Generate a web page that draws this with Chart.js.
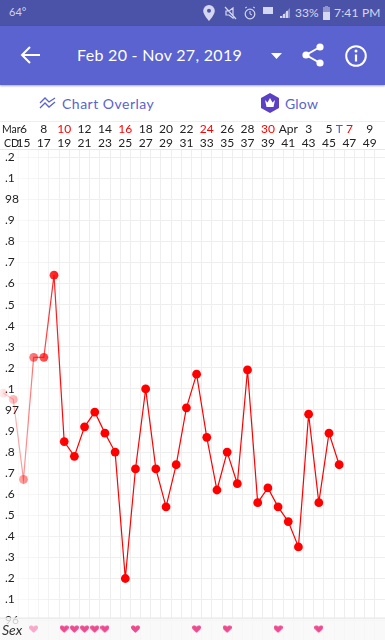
<!DOCTYPE html>
<html>
<head>
<meta charset="utf-8">
<title>Temperature chart</title>
<script src="https://cdn.jsdelivr.net/npm/chart.js@4"></script>
<style>
html, body { margin: 0; padding: 0; background: #fff; overflow: hidden; width: 385px; height: 640px; font-family: Lato, sans-serif; }
.abs { position: absolute; white-space: nowrap; }
#status { left: 0; top: 0; width: 385px; height: 26px; background: #4b53a9; }
#header { left: 0; top: 26px; width: 385px; height: 59px; background: #5a63cf; box-shadow: 0 1px 2px rgba(0,0,0,.35); }
canvas { position: absolute; left: -2px; top: 122px; }
</style>
</head>
<body>
<canvas id="chart" width="387" height="518"></canvas>

<div class="abs" id="status"></div>
<div class="abs" id="header"></div>
<div class="abs" style="left:0;top:121px;width:385px;height:1px;background:#eee"></div>
<div class="abs" style="left:0;top:149px;width:385px;height:1px;background:#e8e8e8"></div>

<div class="abs" style="left:9px;top:5px;font-size:11px;color:#cfd2ee">64°</div>
<div class="abs" style="left:295px;top:5px;font-size:12px;color:#d5d7f0">33%</div>
<div class="abs" style="left:334px;top:5px;font-size:12px;letter-spacing:.2px;color:#d5d7f0">7:41 PM</div>
<svg class="abs" style="left:200px;top:4px" width="92" height="18" viewBox="0 0 92 18">
  <path d="M9 1a5.800 5.800 0 0 0-5.800 5.800C3.200 11 9 17 9 17s5.800-6 5.800-10.200A5.800 5.800 0 0 0 9 1z" fill="#d5d7f0"/>
  <circle cx="9" cy="6.800" r="2" fill="#4b53a9"/>
  <path d="M26 7h3l4-3v10l-4-3h-3zM25 3l11 12" fill="none" stroke="#d5d7f0" stroke-width="1.200"/>
  <circle cx="50" cy="10" r="4.800" fill="none" stroke="#d5d7f0" stroke-width="1.200"/>
  <path d="M50 7v3l2 1M45 4l2-1M55 4l-2-1" fill="none" stroke="#d5d7f0"/>
  <rect x="63" y="3" width="10" height="7" fill="#d5d7f0"/>
  <path d="M80 14l10-10v10z" fill="#8a8fc9"/>
  <path d="M80 14h2v-2h-2zM83 14h2v-4h-2zM86 14h2v-7h-2z" fill="#d5d7f0"/>
</svg>
<svg class="abs" style="left:322px;top:6px" width="9" height="14" viewBox="0 0 9 14">
  <rect x="3" y="0" width="3" height="2" fill="#9095cc"/><rect x="1" y="1" width="7" height="5" fill="#9095cc"/><rect x="1" y="6" width="7" height="8" fill="#d5d7f0"/>
</svg>

<svg class="abs" style="left:20px;top:43px" width="22" height="24" viewBox="0 0 22 24">
  <path d="M20 12H3M10 4l-8 8 8 8" fill="none" stroke="#fff" stroke-width="2"/>
</svg>
<div class="abs" style="left:77px;top:45px;font-size:16px;letter-spacing:.3px;color:#fff">Feb 20 - Nov 27, 2019</div>
<svg class="abs" style="left:270px;top:51px" width="14" height="10"><path d="M1 2h11l-5.500 6z" fill="#fff"/></svg>
<svg class="abs" style="left:300px;top:42px" width="26" height="26" viewBox="0 0 26 26">
  <path d="M20 5L6 13l14 8" fill="none" stroke="#fff" stroke-width="2"/>
  <circle cx="20" cy="5" r="3.600" fill="#fff"/><circle cx="6" cy="13" r="3.600" fill="#fff"/><circle cx="20" cy="21" r="3.600" fill="#fff"/>
</svg>
<svg class="abs" style="left:343px;top:43px" width="26" height="26" viewBox="0 0 26 26">
  <circle cx="13" cy="13" r="9.800" fill="none" stroke="#fff" stroke-width="2"/>
  <path d="M13 11.500v7" stroke="#fff" stroke-width="2.200"/><circle cx="13" cy="8" r="1.500" fill="#fff"/>
</svg>

<svg class="abs" style="left:39px;top:96px" width="18" height="14" viewBox="0 0 18 14">
  <path d="M1 7l5-5 4 4 6-4M1 12l5-5 4 4 6-5" fill="none" stroke="#5a63cf" stroke-width="1.300"/>
</svg>
<div class="abs" style="left:62px;top:95px;font-size:14px;letter-spacing:.5px;color:#5a63cf">Chart Overlay</div>
<svg class="abs" style="left:260px;top:92px" width="20" height="22" viewBox="0 0 20 22">
  <path d="M10 1l9 5v10l-9 5-9-5V6z" fill="#5b3fc4"/>
  <path d="M5 8l2.500 2.500L10 6l2.500 4.500L15 8l-1.500 7h-7z" fill="#fff"/>
</svg>
<div class="abs" style="left:285px;top:95px;font-size:14px;letter-spacing:.2px;color:#5a63cf">Glow</div>

<div class="abs" style="left:2px;top:123px;font-size:10.500px;color:#222">Mar</div>
<div class="abs" style="left:4px;top:137px;font-size:10.500px;color:#222">CD</div>
<div class="abs" style="left:2px;top:621px;font-size:14px;font-style:italic;color:#333">Sex</div>

<script>
// Top rows of the chart, one entry per day (blank where the app skips a label)
const dateLabels = ['', '', '6', '', '8', '', '10', '', '12', '', '14', '', '16', '', '18', '', '20', '', '22', '', '24', '', '26', '', '28', '', '30', '', 'Apr', '', '3', '', '5', 'T', '7', '', '9', ''];
const cycleDays = ['', '', '15', '', '17', '', '19', '', '21', '', '23', '', '25', '', '27', '', '29', '', '31', '', '33', '', '35', '', '37', '', '39', '', '41', '', '43', '', '45', '', '47', '', '49', ''];
const redDates = ['10', '16', '24', '30', '7'];
const blueDates = ['T'];

// Temperature readings (F)
const temps = [97.08, 97.05, 96.67, 97.25, 97.25, 97.64, 96.85, 96.78, 96.92, 96.99, 96.89, 96.80, 96.20, 96.72, 97.10, 96.72, 96.54, 96.74, 97.01, 97.17, 96.87, 96.62, 96.80, 96.65, 97.19, 96.56, 96.63, 96.54, 96.47, 96.35, 96.98, 96.56, 96.89, 96.74];

// Days with a heart in the bottom row
const sexDays = [3, 6, 7, 8, 9, 10, 13, 19, 22, 27, 31];
const sexRowValue = 95.96;

const yTickValues = [98.2, 98.1, 98, 97.9, 97.8, 97.7, 97.6, 97.5, 97.4, 97.3, 97.2, 97.1, 97, 96.9, 96.8, 96.7, 96.6, 96.5, 96.4, 96.3, 96.2, 96.1, 96];
const yTickLabels = ['.2', '.1', '98', '.9', '.8', '.7', '.6', '.5', '.4', '.3', '.2', '.1', '97', '.9', '.8', '.7', '.6', '.5', '.4', '.3', '.2', '.1', '96'];

const canvas = document.getElementById('chart');
const ctx = canvas.getContext('2d');

// Everything fades out towards the left edge of the chart
function leftFade(r, g, b) {
    const grad = ctx.createLinearGradient(0, 0, 66, 0);
    grad.addColorStop(0, `rgba(${r},${g},${b},0.04)`);
    grad.addColorStop(1, `rgba(${r},${g},${b},1)`);
    return grad;
}

function makeHeart(color) {
    const c = document.createElement('canvas');
    c.width = 9;
    c.height = 8;
    const h = c.getContext('2d');
    h.fillStyle = color;
    h.scale(0.9, 0.9);
    h.beginPath();
    h.moveTo(5, 8.6);
    h.bezierCurveTo(1, 5.5, 0, 4, 0, 2.6);
    h.bezierCurveTo(0, 0.2, 3.6, -0.3, 5, 2);
    h.bezierCurveTo(6.4, -0.3, 10, 0.2, 10, 2.6);
    h.bezierCurveTo(10, 4, 9, 5.5, 5, 8.6);
    h.fill();
    return c;
}
const heart = makeHeart('#ec4c8f');
const fadedHeart = makeHeart('#f8a9c9');

const gridFade = leftFade(238, 238, 238);
const labelFont = { family: 'Lato', size: 12 };

// Bottom band sits over the grid and under the hearts
const sexBand = {
    id: 'sexBand',
    beforeDatasetsDraw(chart) {
        const c = chart.ctx;
        const top = chart.scales.y.getPixelForValue(96) - 3;
        c.save();
        c.fillStyle = 'rgba(248,248,248,0.8)';
        c.fillRect(0, top, chart.width, chart.height - top);
        c.fillStyle = '#e6e6e6';
        c.fillRect(0, top, chart.width, 1);
        c.restore();
    }
};

new Chart(canvas, {
    type: 'line',
    data: {
        labels: cycleDays,
        datasets: [{
            data: temps,
            borderColor: leftFade(255, 0, 0),
            backgroundColor: leftFade(255, 0, 0),
            pointBackgroundColor: leftFade(255, 0, 0),
            pointBorderWidth: 0,
            pointRadius: 4.4,
            borderWidth: 1.2,
            tension: 0
        }, {
            data: cycleDays.map((d, i) => sexDays.includes(i) ? sexRowValue : null),
            showLine: false,
            pointStyle: c => c.dataIndex < 5 ? fadedHeart : heart
        }]
    },
    options: {
        responsive: false,
        animation: false,
        layout: { padding: 0, autoPadding: false },
        events: [],
        plugins: { legend: { display: false }, tooltip: { enabled: false } },
        scales: {
            x: {
                position: 'top',
                weight: 1,
                offset: true,
                afterFit: s => { s.height = 14; },
                border: { display: false },
                grid: { color: gridFade, drawTicks: false, lineWidth: 1, offset: true },
                ticks: { autoSkip: false, maxRotation: 0, padding: 0, color: '#222', font: labelFont }
            },
            date: {
                type: 'category',
                labels: dateLabels,
                position: 'top',
                weight: 2,
                offset: true,
                afterFit: s => { s.height = 14; },
                border: { display: false },
                grid: { display: false, drawTicks: false },
                ticks: {
                    autoSkip: false,
                    maxRotation: 0,
                    padding: 0,
                    font: labelFont,
                    color: c => {
                        const t = dateLabels[c.index];
                        if (redDates.includes(t)) return '#ff0000';
                        if (blueDates.includes(t)) return '#4a55e0';
                        return '#222';
                    }
                }
            },
            y: {
                min: 95.908,
                max: 98.234,
                afterFit: s => { s.width = 0; s.paddingTop = 0; s.paddingBottom = 0; },
                afterBuildTicks: s => { s.ticks = yTickValues.map(v => ({ value: v })); },
                border: { display: false },
                grid: { color: gridFade, drawTicks: false, lineWidth: 1 },
                ticks: {
                    mirror: true,
                    padding: 7,
                    color: '#222',
                    font: labelFont,
                    callback: (v, i) => yTickLabels[i]
                }
            }
        }
    },
    plugins: [sexBand]
});
</script>
</body>
</html>
